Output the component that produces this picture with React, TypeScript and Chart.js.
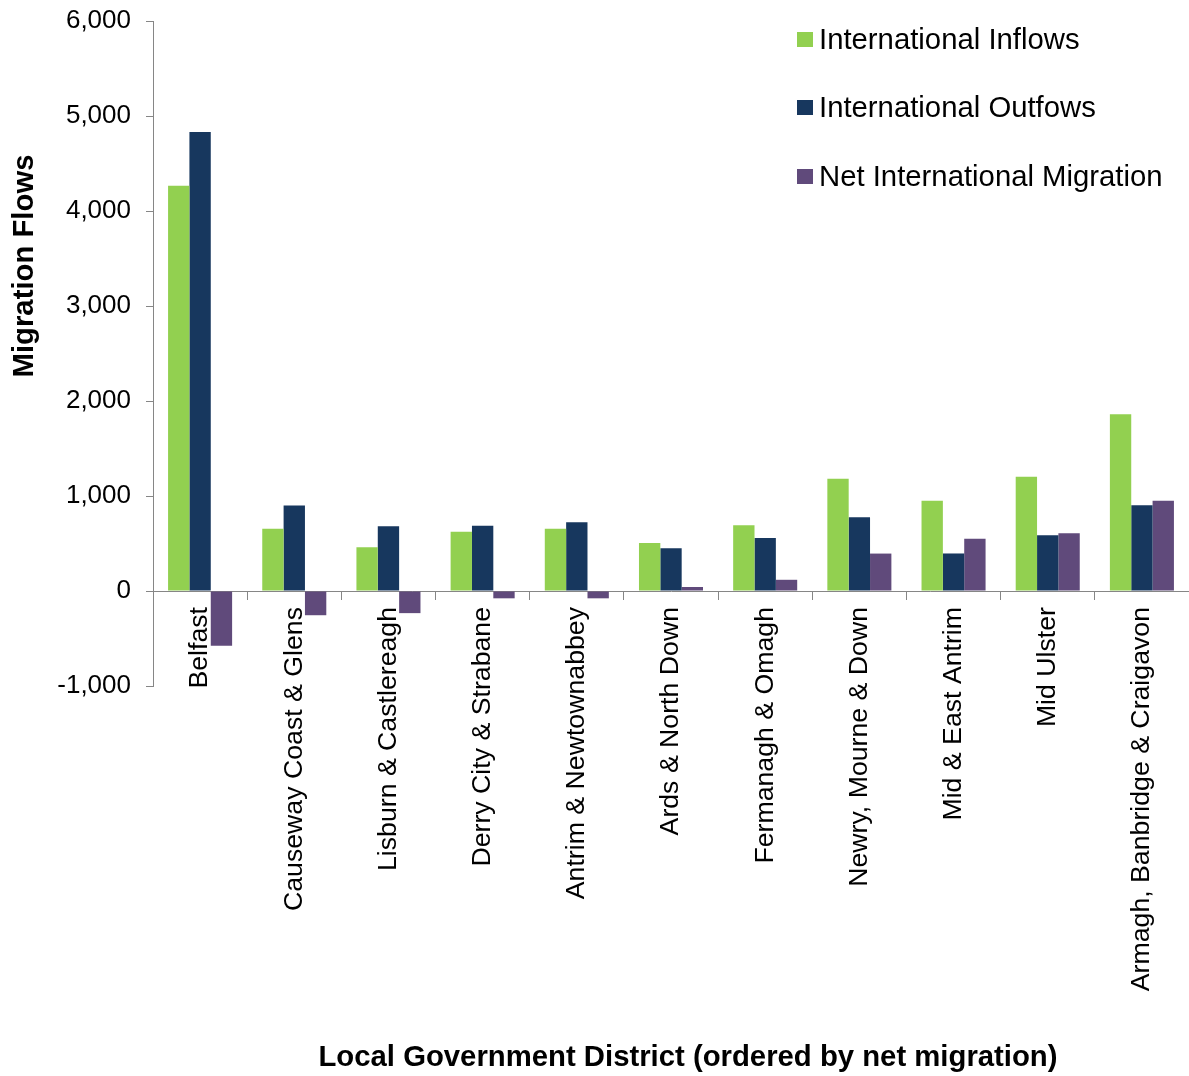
import React, { useEffect, useRef } from "react";
import { Chart, registerables } from "chart.js";

Chart.register(...registerables);

const districts: string[] = [
  "Belfast",
  "Causeway Coast & Glens",
  "Lisburn & Castlereagh",
  "Derry City & Strabane",
  "Antrim & Newtownabbey",
  "Ards & North Down",
  "Fermanagh & Omagh",
  "Newry, Mourne & Down",
  "Mid & East Antrim",
  "Mid Ulster",
  "Armagh, Banbridge & Craigavon",
];

const inflows: number[] = [4265, 655, 460, 625, 655, 505, 692, 1182, 950, 1203, 1860];
const outflows: number[] = [4832, 900, 682, 688, 724, 450, 558, 776, 395, 587, 903];
const netMigration: number[] = [-575, -255, -233, -77, -77, 42, 118, 394, 550, 609, 949];

const seriesNames: string[] = [
  "International Inflows",
  "International Outfows",
  "Net International Migration",
];
const seriesColors: string[] = ["#92D050", "#17375E", "#604A7B"];

const yTicksMin = -1000;
const yTicksMax = 6000;
const yTickStep = 1000;

const xTitle = "Local Government District (ordered by net migration)";
const yTitle = "Migration Flows";

const FONT = '"Liberation Sans", Arial, Helvetica, sans-serif';
const AXIS_GREY = "#868686";

const axisTitlePlugin = {
  id: "axisTitles",
  afterDraw(chart: any) {
    const ctx = chart.ctx;
    ctx.save();
    ctx.fillStyle = "#000";
    ctx.font = `bold 29.3px ${FONT}`;
    ctx.textAlign = "center";
    ctx.textBaseline = "middle";
    ctx.fillText(xTitle, 688, 1058);
    ctx.translate(25, 266);
    ctx.rotate(-Math.PI / 2);
    ctx.fillText(yTitle, 0, 0);
    ctx.restore();
  },
};

export default function App() {
  const canvasRef = useRef<HTMLCanvasElement | null>(null);

  useEffect(() => {
    if (!canvasRef.current) return;
    const chart = new Chart(canvasRef.current, {
      type: "bar",
      data: {
        labels: districts,
        datasets: [
          { label: seriesNames[0], data: inflows, backgroundColor: seriesColors[0] },
          { label: seriesNames[1], data: outflows, backgroundColor: seriesColors[1] },
          { label: seriesNames[2], data: netMigration, backgroundColor: seriesColors[2] },
        ],
      },
      options: {
        animation: false,
        responsive: false,
        maintainAspectRatio: false,
        layout: { padding: { top: 21, left: 0, right: 0, bottom: 390 } },
        datasets: {
          bar: { categoryPercentage: 0.68, barPercentage: 1.0, borderWidth: 0 },
        },
        plugins: {
          legend: { display: false },
          tooltip: { enabled: false },
          title: { display: false },
        },
        scales: {
          x: {
            position: { y: 0 } as any,
            afterFit: (scale: any) => {
              scale.paddingLeft = 0;
              scale.paddingRight = 0;
              scale.paddingTop = 0;
              scale.paddingBottom = 0;
            },
            grid: {
              display: true,
              drawOnChartArea: false,
              drawTicks: true,
              tickLength: 8,
              color: AXIS_GREY,
              offset: true,
            },
            border: { display: true, color: AXIS_GREY, width: 1 },
            ticks: {
              autoSkip: false,
              maxRotation: 90,
              minRotation: 90,
              padding: 8,
              color: "#000",
              font: { family: FONT, size: 26.7 },
            },
          },
          y: {
            position: "left",
            min: yTicksMin,
            max: yTicksMax,
            afterFit: (scale: any) => {
              scale.width = 153;
              scale.paddingTop = 0;
              scale.paddingBottom = 0;
            },
            grid: {
              display: true,
              drawOnChartArea: false,
              drawTicks: true,
              tickLength: 7,
              color: AXIS_GREY,
            },
            border: { display: true, color: AXIS_GREY, width: 1 },
            ticks: {
              stepSize: yTickStep,
              padding: 15,
              color: "#000",
              font: { family: FONT, size: 26 },
            },
          },
        },
      },
      plugins: [axisTitlePlugin],
    });
    return () => chart.destroy();
  }, []);

  const legendTops = [39, 107, 176];

  return (
    <div style={{ position: "absolute", left: 0, top: 0, width: 1189, height: 1076, background: "#fff" }}>
      <canvas ref={canvasRef} width={1189} height={1076} style={{ display: "block" }} />
      {seriesNames.map((name, i) => (
        <div
          key={name}
          style={{
            position: "absolute",
            left: 797,
            top: legendTops[i] - 17,
            height: 34,
            display: "flex",
            alignItems: "center",
            fontFamily: FONT,
            fontSize: 29.3,
            color: "#000",
            whiteSpace: "nowrap",
          }}
        >
          <span
            style={{
              display: "inline-block",
              width: 16,
              height: 15,
              background: seriesColors[i],
              marginRight: 6,
            }}
          />
          <span>{name}</span>
        </div>
      ))}
    </div>
  );
}
